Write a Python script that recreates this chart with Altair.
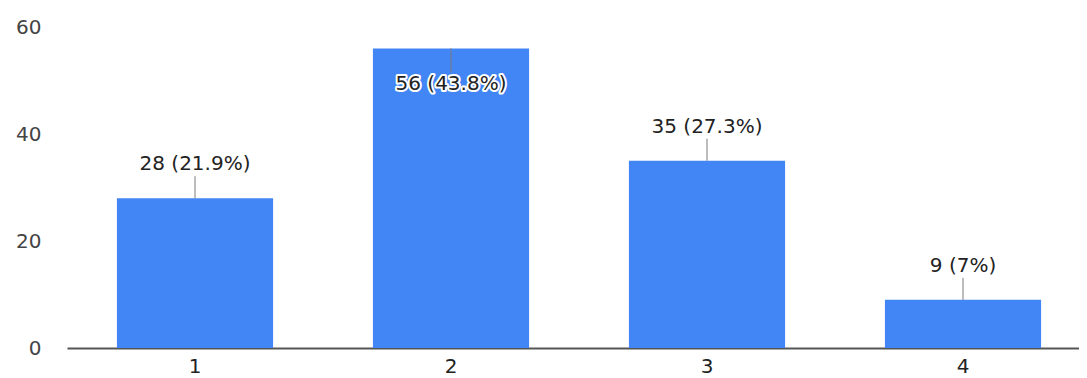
import altair as alt
import pandas as pd

categories = ["1", "2", "3", "4"]
counts = [28, 56, 35, 9]
labels = ["28 (21.9%)", "56 (43.8%)", "35 (27.3%)", "9 (7%)"]
inside = [False, True, False, False]

df = pd.DataFrame({"cat": categories, "value": counts, "label": labels, "inside": inside})

FONT = "DejaVu Sans"
FS = 20

x = alt.X("cat:N", sort=categories, title=None,
          scale=alt.Scale(paddingInner=0.39, paddingOuter=0.195),
          axis=alt.Axis(labelAngle=0, ticks=False, domainColor="#555", domainWidth=2,
                        labelFont=FONT, labelFontSize=FS, labelColor="#222", labelPadding=8))
y = alt.Y("value:Q", title=None,
          scale=alt.Scale(domain=[0, 60], nice=False),
          axis=alt.Axis(values=[0, 20, 40, 60], grid=False, domain=False, ticks=False,
                        labelFont=FONT, labelFontSize=FS, labelColor="#444", labelPadding=26))

base = alt.Chart(df)

bars = base.mark_bar(color="#4285F4").encode(x=x, y=y)

out = base.transform_filter("!datum.inside")
ins = base.transform_filter("datum.inside")

rule_out = out.mark_rule(color="#7a7a7a", strokeWidth=1, y2Offset=-22).encode(
    x=alt.X("cat:N", sort=categories), y="value:Q", y2="value:Q")
text_out = out.mark_text(font=FONT, fontSize=FS, color="#222", dy=-34, baseline="middle").encode(
    x=alt.X("cat:N", sort=categories), y="value:Q", text="label:N")

rule_in = ins.mark_rule(color="#7a7a7a", strokeWidth=1, y2Offset=24).encode(
    x=alt.X("cat:N", sort=categories), y="value:Q", y2="value:Q")
text_halo = ins.mark_text(font=FONT, fontSize=FS, color="white", stroke="white", strokeWidth=4,
                          strokeJoin="round", dy=36, baseline="middle").encode(
    x=alt.X("cat:N", sort=categories), y="value:Q", text="label:N")
text_in = ins.mark_text(font=FONT, fontSize=FS, color="#222", dy=36, baseline="middle").encode(
    x=alt.X("cat:N", sort=categories), y="value:Q", text="label:N")

chart = alt.layer(bars, rule_out, text_out, rule_in, text_halo, text_in).properties(
    width=1024, height=321,
    autosize=alt.AutoSizeParams(type="none"),
    padding={"left": 59, "top": 19, "right": -12, "bottom": 34},
).configure_view(stroke=None)

chart.save("out.html", embed_options={"renderer": "svg", "actions": False})
